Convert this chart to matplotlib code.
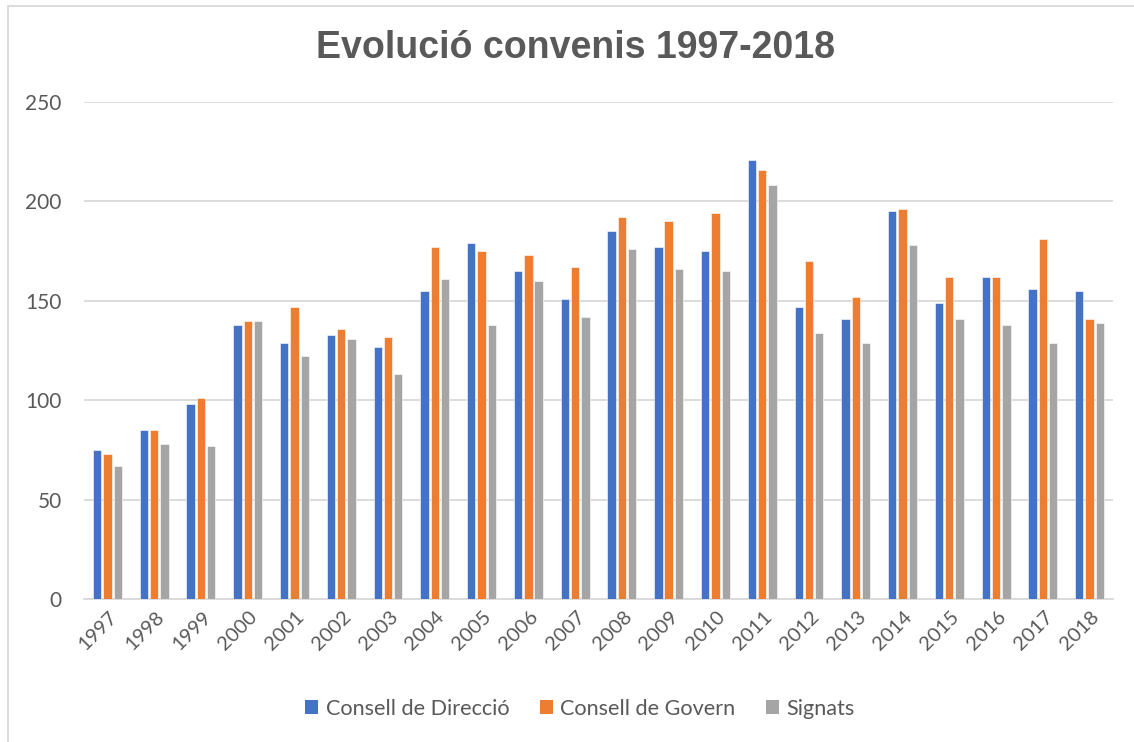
import matplotlib
matplotlib.use("Agg")
import matplotlib.pyplot as plt
import numpy as np
from matplotlib.patches import Rectangle, Patch
from matplotlib.transforms import ScaledTranslation

years = ["1997", "1998", "1999", "2000", "2001", "2002", "2003", "2004", "2005", "2006", "2007",
         "2008", "2009", "2010", "2011", "2012", "2013", "2014", "2015", "2016", "2017", "2018"]
consell_direccio = [75, 85, 98, 138, 129, 133, 127, 155, 179, 165, 151,
                    185, 177, 175, 221, 147, 141, 195, 149, 162, 156, 155]
consell_govern = [73, 85, 101, 140, 147, 136, 132, 177, 175, 173, 167,
                  192, 190, 194, 216, 170, 152, 196, 162, 162, 181, 141]
signats = [67, 78, 77, 140, 122, 131, 113, 161, 138, 160, 142,
           176, 166, 165, 208, 134, 129, 178, 141, 138, 129, 139]
series_names = ["Consell de Direcció", "Consell de Govern", "Signats"]
title = "Evolució convenis 1997-2018"
yticks = [0, 50, 100, 150, 200, 250]

colors = ["#4472C4", "#ED7D31", "#A5A5A5"]
txt = "#595959"
grid = "#D9D9D9"
FONT = ["Lato", "DejaVu Sans"]

W, H = 1134, 742
fig = plt.figure(figsize=(W / 100, H / 100), dpi=100)
fig.patch.set_facecolor("white")

# chart border
fig.add_artist(Rectangle((8 / W, -0.1), 1.2, 1 - 6 / H + 0.1, transform=fig.transFigure,
                         fill=False, edgecolor=grid, linewidth=1.3))

ax = fig.add_axes([84 / W, 1 - 599 / H, (1113 - 84) / W, (599 - 102) / H])
x = np.arange(len(years))
bw = 0.178
off = 0.22
for i, (vals, c, name) in enumerate(zip([consell_direccio, consell_govern, signats], colors, series_names)):
    ax.bar(x + (i - 1) * off, vals, width=bw, color=c, edgecolor="white", linewidth=0.4,
           label=name, zorder=3)

ax.set_xlim(-0.5, len(years) - 0.5)
ax.set_ylim(0, 250)
ax.set_yticks(yticks)
ax.set_yticklabels([str(v) for v in yticks], fontfamily=FONT, fontsize=15, color=txt)
ax.yaxis.grid(True, color=grid, linewidth=1.3, zorder=0)
ax.set_axisbelow(True)
for s in ["top", "right", "left"]:
    ax.spines[s].set_visible(False)
ax.spines["bottom"].set_color(grid)
ax.spines["bottom"].set_linewidth(1.3)
ax.tick_params(axis="both", length=0)
ax.tick_params(axis="y", pad=16)
ax.set_xticks(x)
ax.set_xticklabels(years, rotation=45, ha="right", va="top", rotation_mode="anchor",
                   fontfamily=FONT, fontsize=14.5, color=txt)
for lab in ax.get_xticklabels():
    lab.set_transform(lab.get_transform() + ScaledTranslation(1 / 100, -4 / 100, fig.dpi_scale_trans))

fig.text(575 / W, 1 - 48 / H, title, ha="center", va="center", fontsize=27, fontweight="bold",
         color=txt, fontfamily=["Liberation Sans", "DejaVu Sans"])

handles = [Patch(facecolor=c, edgecolor="none") for c in colors]
fig.legend(handles, series_names, loc="center", bbox_to_anchor=(580 / W, 1 - 709 / H), ncol=3,
           frameon=False, prop={"family": FONT, "size": 15.6}, labelcolor=txt,
           handlelength=0.6, handleheight=0.6, handletextpad=0.35, columnspacing=1.4)

fig.savefig("out.png", dpi=100, facecolor="white")
